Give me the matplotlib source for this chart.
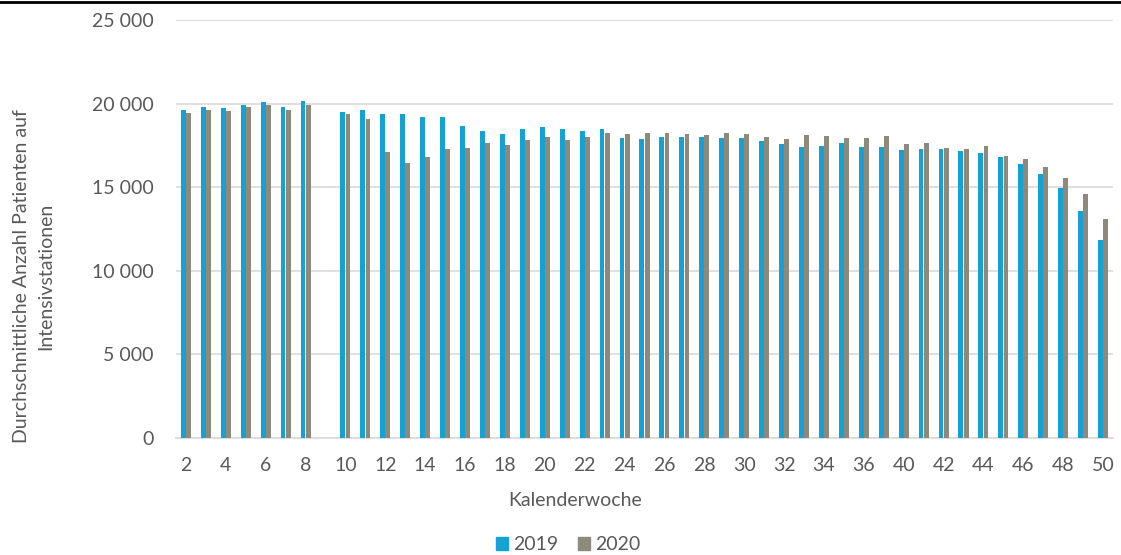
import numpy as np
import matplotlib
matplotlib.use("Agg")
import matplotlib.pyplot as plt
from matplotlib.lines import Line2D
from matplotlib.patches import Rectangle
from matplotlib.ticker import FuncFormatter

# Kalenderwochen (Woche 9 ohne Daten)
weeks = [2, 3, 4, 5, 6, 7, 8, 9, 10, 11, 12, 13, 14, 15, 16, 17, 18, 19, 20,
         21, 22, 23, 24, 25, 26, 27, 28, 29, 30, 31, 32, 33, 34, 35, 36, 38,
         40, 41, 42, 43, 44, 45, 46, 47, 48, 49, 50]

# Durchschnittliche Anzahl Patienten auf Intensivstationen
patients_2019 = [19600, 19770, 19720, 19940, 20070, 19800, 20180, np.nan,
                 19500, 19590, 19350, 19370, 19170, 19170, 18690, 18350,
                 18190, 18470, 18610, 18510, 18350, 18510, 17950, 17910,
                 18030, 18010, 17990, 17930, 17930, 17750, 17570, 17390,
                 17490, 17630, 17390, 17390, 17210, 17270, 17270, 17140,
                 17020, 16800, 16360, 15760, 14940, 13590, 11820]
patients_2020 = [19430, 19590, 19550, 19780, 19940, 19620, 19900, np.nan,
                 19370, 19070, 17080, 16420, 16800, 17260, 17320, 17670,
                 17510, 17810, 17990, 17830, 18010, 18250, 18170, 18250,
                 18250, 18190, 18110, 18250, 18190, 18030, 17870, 18110,
                 18090, 17930, 17930, 18050, 17570, 17670, 17330, 17260,
                 17450, 16870, 16660, 16200, 15540, 14570, 13070]

y_ticks = [0, 5000, 10000, 15000, 20000, 25000]

BLUE = "#14A2D4"
GREY = "#8D8A7C"
TEXT = "#595959"
GRID = "#D9D9D9"
FS = 14

plt.rcParams["font.family"] = ["Lato", "DejaVu Sans"]

W, H = 1121, 555
fig = plt.figure(figsize=(W / 100, H / 100), dpi=100)
ax = fig.add_axes([176 / W, 1 - 438 / H, (1113 - 176) / W, (438 - 20) / H])

x = np.arange(len(weeks))
bw = 0.245
ax.bar(x - 0.13, patients_2019, width=bw, color=BLUE, linewidth=0, zorder=3)
ax.bar(x + 0.13, patients_2020, width=bw, color=GREY, linewidth=0, zorder=3)

ax.set_xlim(-0.5, len(weeks) - 0.5)
ax.set_ylim(0, 25000)
ax.set_yticks(y_ticks)
ax.yaxis.set_major_formatter(FuncFormatter(lambda v, p: f"{int(v):,}".replace(",", " ")))
ax.set_xticks(x[::2])
ax.set_xticklabels([str(w) for w in weeks[::2]])

ax.grid(axis="y", color=GRID, linewidth=1.2, zorder=0)
ax.set_axisbelow(True)
for s in ["top", "right", "left"]:
    ax.spines[s].set_visible(False)
ax.spines["bottom"].set_color(GRID)
ax.spines["bottom"].set_linewidth(1.2)
ax.tick_params(axis="both", length=0, colors=TEXT, labelsize=FS)
ax.tick_params(axis="y", pad=16)
ax.tick_params(axis="x", pad=14)

# Achsentitel
fig.text(575 / W, 1 - 500 / H, "Kalenderwoche", ha="center", va="center",
         color=TEXT, fontsize=FS)
fig.text(34 / W, 1 - 276 / H,
         "Durchschnittliche Anzahl Patienten auf\nIntensivstationen",
         ha="center", va="center", rotation=90, color=TEXT, fontsize=FS,
         linespacing=1.5)

# Legende
handles = [Rectangle((0, 0), 1, 1, color=BLUE), Rectangle((0, 0), 1, 1, color=GREY)]
fig.legend(handles, ["2019", "2020"], loc="center", bbox_to_anchor=(568 / W, 1 - 545 / H),
           ncol=2, frameon=False, fontsize=FS, handlelength=0.65, handleheight=0.65,
           handletextpad=0.25, columnspacing=1.0, labelcolor=TEXT, borderpad=0)

# Trennlinie oben
fig.add_artist(Line2D([0, 1], [1 - 2 / H, 1 - 2 / H], transform=fig.transFigure,
                      color="black", linewidth=2))

fig.savefig("out.png", dpi=100)
